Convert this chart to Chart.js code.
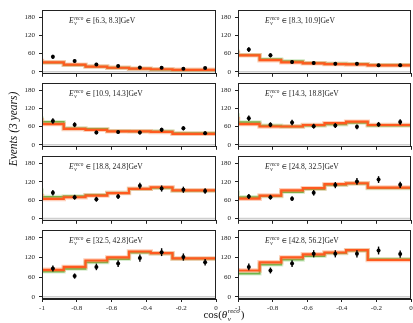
<!DOCTYPE html>
<html>
<head>
<meta charset="utf-8">
<script src="https://cdn.jsdelivr.net/npm/chart.js@4.4.0/dist/chart.umd.min.js"></script>
<style>
  html, body { margin: 0; padding: 0; background: #fff; width: 413px; height: 323px; overflow: hidden; }
  body { position: relative; }
  canvas { position: absolute; }
</style>
</head>
<body>
<canvas id="labels" width="413" height="323" style="left:0;top:0;width:413px;height:323px"></canvas>

<script>
// Reconstructed-energy ranges, one per panel
const energyRanges = ['[6.3, 8.3]', '[8.3, 10.9]', '[10.9, 14.3]', '[14.3, 18.8]',
                      '[18.8, 24.8]', '[24.8, 32.5]', '[32.5, 42.8]', '[42.8, 56.2]'];

// cos(theta) binning
const binEdges   = [-1, -0.875, -0.75, -0.625, -0.5, -0.375, -0.25, -0.125, 0];
const binCenters = [-0.9375, -0.8125, -0.6875, -0.5625, -0.4375, -0.3125, -0.1875, -0.0625];

// Axis ticks
const yTicks = [0, 60, 120, 180];
const xTicks = [-1, -0.8, -0.6, -0.4, -0.2, 0];

// Expected events, first hypothesis (orange)
const predOrange1 = [43, 31, 23, 17, 13, 10, 8, 6];
const predOrange2 = [69, 54, 38, 31, 27.5, 25, 24, 21];
const predOrange3 = [87, 68, 52, 49, 44, 44, 42, 36];
const predOrange4 = [92, 68, 60, 60, 65, 71, 76, 65];
const predOrange5 = [81, 64, 69.5, 75, 83, 97, 102, 92];
const predOrange6 = [74, 65, 75, 92, 99, 112, 115, 101];
const predOrange7 = [80, 82, 91, 110.5, 120, 138, 133, 117];
const predOrange8 = [88, 80, 105, 120, 129.5, 135, 142, 112];

// Expected events, second hypothesis (green)
const predGreen1 = [40, 30, 22, 17, 13, 10, 7, 5];
const predGreen2 = [73, 55, 41, 35, 29, 26.5, 25.5, 22];
const predGreen3 = [93, 75, 54, 52, 45, 44, 44, 38];
const predGreen4 = [104, 74, 63, 60, 63, 67, 72, 63];
const predGreen5 = [98, 71, 73, 77, 84, 96, 100, 91];
const predGreen6 = [91, 70, 73, 86.5, 96, 109.5, 114, 99];
const predGreen7 = [78, 77, 85, 105, 115, 135, 132, 116];
const predGreen8 = [69, 70.5, 98, 113, 124, 133, 141, 115];

// Pseudo-data counts
const observed1 = [49, 35, 24, 19, 14, 13, 10, 12];
const observed2 = [73, 54, 32, 29, 26, 26, 21, 21];
const observed3 = [78, 66, 40, 42, 40, 49, 54, 38];
const observed4 = [87, 66, 73, 61, 63, 59, 67, 75];
const observed5 = [84, 69.5, 63, 72, 107, 98, 94, 90];
const observed6 = [72, 69.5, 65, 84, 109, 121, 127, 110];
const observed7 = [86, 63, 91, 101, 118, 136, 121, 105];
const observed8 = [91, 80, 101, 131, 131, 131, 141, 130];

// Statistical uncertainty on the pseudo-data
const errors1 = [7, 6, 5, 4, 4, 4, 3, 3];
const errors2 = [8, 7, 6, 5, 5, 5, 5, 5];
const errors3 = [9, 8, 6, 6, 6, 7, 7, 6];
const errors4 = [9, 8, 9, 8, 8, 8, 8, 9];
const errors5 = [9, 8, 8, 8, 10, 10, 10, 9];
const errors6 = [8, 8, 8, 9, 10, 11, 11, 10];
const errors7 = [9, 8, 10, 10, 11, 12, 11, 10];
const errors8 = [10, 9, 10, 11, 11, 11, 12, 11];

const panels = [
  { orange: predOrange1, green: predGreen1, obs: observed1, err: errors1 },
  { orange: predOrange2, green: predGreen2, obs: observed2, err: errors2 },
  { orange: predOrange3, green: predGreen3, obs: observed3, err: errors3 },
  { orange: predOrange4, green: predGreen4, obs: observed4, err: errors4 },
  { orange: predOrange5, green: predGreen5, obs: observed5, err: errors5 },
  { orange: predOrange6, green: predGreen6, obs: observed6, err: errors6 },
  { orange: predOrange7, green: predGreen7, obs: observed7, err: errors7 },
  { orange: predOrange8, green: predGreen8, obs: observed8, err: errors8 }
];

// Grid geometry (page pixels)
const colLeft  = [42, 238];
const colRight = [216, 411];
const rowTop    = [6, 79, 152, 226];
const rowBottom = [79, 152, 226, 299];
const AXIS_W = 40, PAD = 4;

const SERIF = '"Liberation Serif", "DejaVu Serif", serif';
const ORANGE = '#ff5a1f', ORANGE_HALO = 'rgba(255, 120, 60, 0.35)';
const GREEN = '#6db54a', GREEN_HALO = 'rgba(130, 195, 100, 0.3)';

// Shared axis titles
(function drawAxisTitles() {
  const ctx = document.getElementById('labels').getContext('2d');
  ctx.fillStyle = '#111';
  ctx.textBaseline = 'middle';
  // y title, rotated
  ctx.save();
  ctx.translate(14, 129);
  ctx.rotate(-Math.PI / 2);
  ctx.font = 'italic 11.5px ' + SERIF;
  ctx.textAlign = 'center';
  ctx.fillText('Events (3 years)', 0, 0);
  ctx.restore();
  // x title: cos(theta_nu^reco)
  ctx.textAlign = 'left';
  ctx.textBaseline = 'alphabetic';
  const base = 318;
  const parts = [];
  ctx.font = '11px ' + SERIF;
  const wCos = ctx.measureText('cos(').width;
  ctx.font = 'italic 11px ' + SERIF;
  const wTh = ctx.measureText('θ').width;
  ctx.font = 'italic 7px ' + SERIF;
  const wReco = ctx.measureText('reco').width;
  ctx.font = '11px ' + SERIF;
  const wPar = ctx.measureText(')').width;
  const total = wCos + wTh + 0.5 + wReco + 1 + wPar;
  let x = 224 - total / 2;
  ctx.font = '11px ' + SERIF;
  ctx.fillText('cos(', x, base); x += wCos;
  ctx.font = 'italic 11px ' + SERIF;
  ctx.fillText('θ', x, base); x += wTh + 0.5;
  ctx.font = 'italic 7px ' + SERIF;
  ctx.fillText('reco', x, base - 5);
  ctx.fillText('ν', x, base + 2.5);
  x += wReco + 1;
  ctx.font = '11px ' + SERIF;
  ctx.fillText(')', x, base);
})();

function stepPoints(vals) {
  const pts = vals.map((v, i) => ({ x: binEdges[i], y: v }));
  pts.push({ x: binEdges[binEdges.length - 1], y: vals[vals.length - 1] });
  return pts;
}

// Frame, zero line, error bars and energy-range caption
const panelDecor = {
  id: 'panelDecor',
  beforeDatasetsDraw(chart) {
    const { ctx, chartArea: a, scales: { y } } = chart;
    const y0 = y.getPixelForValue(0);
    ctx.save();
    ctx.strokeStyle = '#cfcfcf';
    ctx.lineWidth = 1.6;
    ctx.beginPath();
    ctx.moveTo(a.left, y0);
    ctx.lineTo(a.right, y0);
    ctx.stroke();
    ctx.restore();
  },
  afterDatasetsDraw(chart, args, opts) {
    const { ctx, chartArea: a, scales: { x, y } } = chart;
    ctx.save();
    // error bars
    ctx.strokeStyle = '#000';
    ctx.lineWidth = 1.4;
    opts.obs.forEach((v, i) => {
      const px = x.getPixelForValue(binCenters[i]);
      ctx.beginPath();
      ctx.moveTo(px, y.getPixelForValue(v - opts.err[i]));
      ctx.lineTo(px, y.getPixelForValue(v + opts.err[i]));
      ctx.stroke();
    });
    // frame
    ctx.strokeStyle = '#222';
    ctx.lineWidth = 1;
    ctx.strokeRect(Math.round(a.left) + 0.5, Math.round(a.top) + 0.5,
                   Math.round(a.right - a.left) - 1, Math.round(a.bottom - a.top) - 1);
    // caption: E_nu^reco in [lo, hi]GeV
    let tx = a.left + 27;
    const ty = a.top + 13;
    ctx.fillStyle = '#222';
    ctx.textBaseline = 'alphabetic';
    ctx.font = 'italic 7.6px ' + SERIF;
    ctx.fillText('E', tx, ty);
    tx += ctx.measureText('E').width + 0.6;
    ctx.font = 'italic 5.2px ' + SERIF;
    ctx.fillText('reco', tx, ty - 3.6);
    const w1 = ctx.measureText('reco').width;
    ctx.fillText('ν', tx, ty + 1.8);
    tx += w1 + 2.2;
    ctx.font = '7.6px ' + SERIF;
    ctx.fillText('∈ ' + opts.range + 'GeV', tx, ty);
    ctx.restore();
  }
};

panels.forEach((p, idx) => {
  const col = idx % 2, row = Math.floor(idx / 2);
  const isBottom = row === 3;
  const xAxisH = isBottom ? 18 : 3;
  const cv = document.createElement('canvas');
  const w = colRight[col] - colLeft[col] + AXIS_W + PAD;
  const h = rowBottom[row] - rowTop[row] + PAD + xAxisH;
  cv.width = w; cv.height = h;
  cv.style.width = w + 'px'; cv.style.height = h + 'px';
  cv.style.left = (colLeft[col] - AXIS_W) + 'px';
  cv.style.top = (rowTop[row] - PAD) + 'px';
  document.body.appendChild(cv);

  // Dataset 0 is drawn last (on top)
  new Chart(cv, {
    type: 'line',
    data: {
      datasets: [
        { type: 'scatter', data: p.obs.map((v, i) => ({ x: binCenters[i], y: v })),
          pointRadius: 2, pointBackgroundColor: '#000', pointBorderWidth: 0, showLine: false },
        { data: stepPoints(p.orange), stepped: 'after', borderColor: ORANGE, borderWidth: 2.2, pointRadius: 0, fill: false },
        { data: stepPoints(p.orange), stepped: 'after', borderColor: ORANGE_HALO, borderWidth: 4.5, pointRadius: 0, fill: false },
        { data: stepPoints(p.green), stepped: 'after', borderColor: GREEN, borderWidth: 1.8, pointRadius: 0, fill: false },
        { data: stepPoints(p.green), stepped: 'after', borderColor: GREEN_HALO, borderWidth: 4, pointRadius: 0, fill: false }
      ]
    },
    options: {
      responsive: false,
      animation: false,
      devicePixelRatio: 1,
      layout: { padding: { left: 0, top: PAD, right: PAD, bottom: 0 } },
      plugins: {
        legend: { display: false },
        tooltip: { enabled: false },
        panelDecor: { obs: p.obs, err: p.err, range: energyRanges[idx] }
      },
      scales: {
        x: {
          type: 'linear', min: -1, max: 0,
          afterBuildTicks: s => { s.ticks = xTicks.map(v => ({ value: v })); },
          afterFit: s => { s.height = xAxisH; },
          ticks: {
            display: isBottom, color: '#222', padding: 2, maxRotation: 0,
            font: { family: SERIF, size: 7 },
            callback: v => (v === 0 ? '0' : String(+v.toFixed(1)))
          },
          grid: { drawOnChartArea: false, tickLength: 3, color: '#222' },
          border: { color: '#222' }
        },
        y: {
          min: -7, max: 203,
          afterBuildTicks: s => { s.ticks = yTicks.map(v => ({ value: v })); },
          afterFit: s => { s.width = AXIS_W; },
          ticks: { color: '#222', padding: 4, font: { family: SERIF, size: 7 } },
          grid: { drawOnChartArea: false, tickLength: 3, color: '#222' },
          border: { color: '#222' }
        }
      }
    },
    plugins: [panelDecor]
  });
});
</script>
</body>
</html>
